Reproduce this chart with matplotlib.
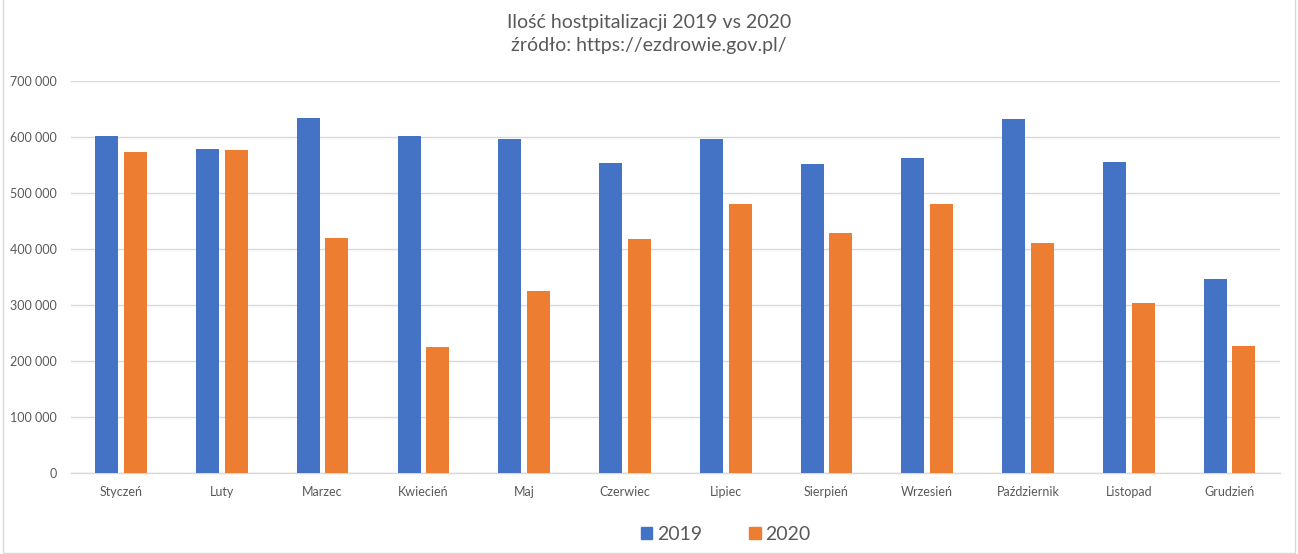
import numpy as np
import matplotlib
matplotlib.use('Agg')
import matplotlib.pyplot as plt
from matplotlib.ticker import FuncFormatter, MultipleLocator
from matplotlib.patches import Rectangle, Patch

months = ['Styczeń', 'Luty', 'Marzec', 'Kwiecień', 'Maj', 'Czerwiec',
          'Lipiec', 'Sierpień', 'Wrzesień', 'Październik', 'Listopad', 'Grudzień']
hosp_2019 = [602000, 579000, 634000, 602000, 597000, 554000,
             597000, 552000, 563000, 633000, 556000, 347000]
hosp_2020 = [574000, 577000, 420000, 225000, 325000, 418000,
             481000, 429000, 481000, 411000, 304000, 227000]

BLUE = '#4472C4'
ORANGE = '#ED7D31'
GREY_TXT = '#595959'
GRID = '#D9D9D9'

plt.rcParams['font.family'] = ['Lato', 'DejaVu Sans']

fig = plt.figure(figsize=(12.98, 5.54), dpi=100)
ax = fig.add_axes([0.0545, 0.1457, 0.9316, 0.7081])

x = np.arange(len(months))
w = 0.228
ax.bar(x - 0.142, hosp_2019, width=w, color=BLUE, zorder=3)
ax.bar(x + 0.142, hosp_2020, width=w, color=ORANGE, zorder=3)

ax.set_xlim(-0.5, len(months) - 0.5)
ax.set_ylim(0, 700000)
ax.yaxis.set_major_locator(MultipleLocator(100000))
ax.yaxis.set_major_formatter(FuncFormatter(lambda v, p: '{:,.0f}'.format(v).replace(',', ' ')))
ax.set_xticks(x)
ax.set_xticklabels(months)

ax.grid(axis='y', color=GRID, linewidth=1.0, zorder=0)
for s in ['top', 'right', 'left']:
    ax.spines[s].set_visible(False)
ax.spines['bottom'].set_color(GRID)
ax.spines['bottom'].set_linewidth(1.0)
ax.tick_params(axis='both', length=0, colors=GREY_TXT, labelsize=9)
ax.tick_params(axis='y', pad=10)
ax.tick_params(axis='x', pad=9)

fig.text(0.5, 0.96, 'Ilość hostpitalizacji 2019 vs 2020', ha='center', va='center',
         fontsize=14, color=GREY_TXT)
fig.text(0.5, 0.918, 'źródło: https://ezdrowie.gov.pl/', ha='center', va='center',
         fontsize=14, color=GREY_TXT)

handles = [Patch(color=BLUE, label='2019'), Patch(color=ORANGE, label='2020')]
fig.legend(handles=handles, loc='center', bbox_to_anchor=(0.559, 0.035), ncol=2,
           frameon=False, fontsize=14, labelcolor=GREY_TXT, handlelength=0.6,
           handleheight=0.6, handletextpad=0.25, columnspacing=2.4)

# chart area border
fig.patches.append(Rectangle((0.002, 0.002), 0.996, 1.2, transform=fig.transFigure,
                             fill=False, edgecolor=GRID, linewidth=1.0))

fig.savefig('out.png', dpi=100)
